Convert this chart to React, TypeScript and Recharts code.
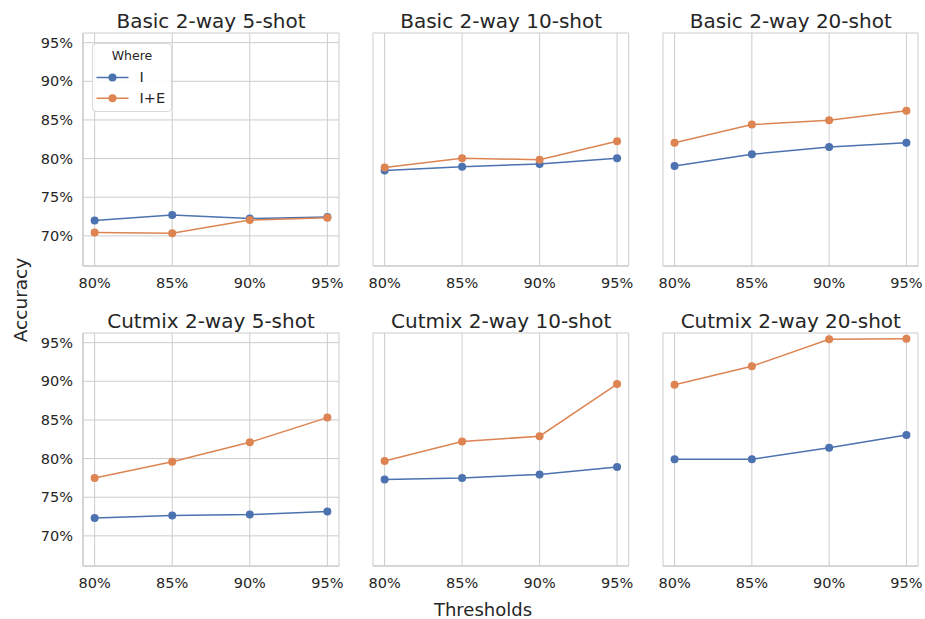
import React from 'react';
import { LineChart, Line, XAxis, YAxis, CartesianGrid, Legend } from 'recharts';

const thresholds = [80, 85, 90, 95];
const xTicks = [80, 85, 90, 95];
const yTicks = [70, 75, 80, 85, 90, 95];
const seriesNames = ['I', 'I+E'];
const panelTitles = [
  'Basic 2-way 5-shot',
  'Basic 2-way 10-shot',
  'Basic 2-way 20-shot',
  'Cutmix 2-way 5-shot',
  'Cutmix 2-way 10-shot',
  'Cutmix 2-way 20-shot',
];

const basic5_I = [72.0, 72.7, 72.25, 72.45];
const basic5_IE = [70.45, 70.35, 72.05, 72.35];
const basic10_I = [78.45, 78.95, 79.3, 80.05];
const basic10_IE = [78.85, 80.05, 79.85, 82.25];
const basic20_I = [79.05, 80.55, 81.5, 82.05];
const basic20_IE = [82.05, 84.4, 84.95, 86.2];
const cutmix5_I = [72.3, 72.65, 72.75, 73.15];
const cutmix5_IE = [77.5, 79.6, 82.1, 85.3];
const cutmix10_I = [77.3, 77.5, 77.95, 78.9];
const cutmix10_IE = [79.7, 82.2, 82.9, 89.65];
const cutmix20_I = [79.9, 79.9, 81.4, 83.05];
const cutmix20_IE = [89.55, 91.95, 95.45, 95.5];

const panelSeries = [
  [basic5_I, basic5_IE],
  [basic10_I, basic10_IE],
  [basic20_I, basic20_IE],
  [cutmix5_I, cutmix5_IE],
  [cutmix10_I, cutmix10_IE],
  [cutmix20_I, cutmix20_IE],
];

const COLORS = ['#4c72b0', '#dd8452'];
const FONT = '"DejaVu Sans", sans-serif';
const TEXT = '#262626';
const GRID = '#cccccc';
const xDomain = [79.25, 95.75];
const yDomain = [66.1, 96.25];

const colLeft = [83, 373.3, 663.3];
const colWidth = [256, 255.7, 255];
const rowTop = [33, 332.7];
const plotH = 233;

const renderLegend = (props: any) => {
  const payload = props.payload || [];
  return (
    <div
      style={{
        width: 80,
        height: 69,
        boxSizing: 'border-box',
        border: '1px solid #d9d9d9',
        borderRadius: 4,
        background: 'rgba(255,255,255,0.85)',
      }}
    >
      <svg width={78} height={67} style={{ display: 'block' }}>
        <text x={39} y={16} textAnchor="middle" fontFamily={FONT} fontSize={12.5} fill={TEXT}>
          Where
        </text>
        {payload.map((p: any, i: number) => {
          const cy = 33.4 + i * 20.8;
          return (
            <g key={p.value}>
              <line x1={3.5} x2={35.5} y1={cy} y2={cy} stroke={p.color} strokeWidth={1.5} />
              <circle cx={19.5} cy={cy} r={4} fill={p.color} />
              <text x={46.5} y={cy + 5} fontFamily={FONT} fontSize={14.5} fill={TEXT}>
                {p.value}
              </text>
            </g>
          );
        })}
      </svg>
    </div>
  );
};

function Panel({ idx }: { idx: number }) {
  const col = idx % 3;
  const row = Math.floor(idx / 3);
  const [sI, sIE] = panelSeries[idx];
  const data = thresholds.map((t, i) => ({ t, I: sI[i], IE: sIE[i] }));
  const yW = col === 0 ? colLeft[0] : 0;
  const mLeft = col === 0 ? 0 : 28;
  const chartLeft = colLeft[col] - yW - mLeft;
  const mTop = 10;
  const xH = 30;
  const width = yW + mLeft + colWidth[col] + 6;
  const height = mTop + plotH + xH;
  const tickStyle = { fontFamily: FONT, fontSize: 14.5, fill: TEXT };
  return (
    <div style={{ position: 'absolute', left: chartLeft, top: rowTop[row] - mTop }}>
      <LineChart width={width} height={height} data={data} margin={{ top: mTop, right: 6, bottom: 0, left: mLeft }}>
        <CartesianGrid stroke={GRID} strokeWidth={1} horizontal vertical />
        <XAxis
          dataKey="t"
          type="number"
          domain={xDomain}
          allowDataOverflow
          ticks={xTicks}
          tickFormatter={(v: number) => `${v}%`}
          height={xH}
          tickLine={false}
          tickSize={6}
          tickMargin={6}
          axisLine={{ stroke: GRID, strokeWidth: 1.25 }}
          tick={tickStyle}
          interval={0}
        />
        <XAxis
          xAxisId="top"
          orientation="top"
          type="number"
          domain={xDomain}
          allowDataOverflow
          height={0}
          tick={false}
          tickLine={false}
          axisLine={{ stroke: GRID, strokeWidth: 1.25 }}
        />
        <YAxis
          type="number"
          domain={yDomain}
          allowDataOverflow
          ticks={yTicks}
          tickFormatter={(v: number) => `${v}%`}
          width={yW}
          tickLine={false}
          tickSize={5}
          tickMargin={5}
          axisLine={{ stroke: GRID, strokeWidth: 1.25 }}
          tick={col === 0 ? tickStyle : false}
          interval={0}
        />
        <YAxis
          yAxisId="right"
          orientation="right"
          type="number"
          domain={yDomain}
          allowDataOverflow
          width={0}
          tick={false}
          tickLine={false}
          axisLine={{ stroke: GRID, strokeWidth: 1.25 }}
        />
        {idx === 0 && (
          <Legend
            layout="vertical"
            align="center"
            verticalAlign="middle"
            content={renderLegend}
            wrapperStyle={{ left: 92.3, top: 43.3 - (rowTop[0] - mTop), width: 80, height: 69 }}
          />
        )}
        <Line
          dataKey="I"
          name={seriesNames[0]}
          stroke={COLORS[0]}
          strokeWidth={1.5}
          dot={{ r: 4, fill: COLORS[0], stroke: COLORS[0], strokeWidth: 0 }}
          activeDot={false}
          isAnimationActive={false}
        />
        <Line
          dataKey="IE"
          name={seriesNames[1]}
          stroke={COLORS[1]}
          strokeWidth={1.5}
          dot={{ r: 4, fill: COLORS[1], stroke: COLORS[1], strokeWidth: 0 }}
          activeDot={false}
          isAnimationActive={false}
        />
      </LineChart>
    </div>
  );
}

export default function App() {
  return (
    <div style={{ position: 'absolute', left: 0, top: 0, width: 925, height: 619, background: '#ffffff', overflow: 'hidden' }}>
      <svg width={925} height={619} style={{ position: 'absolute', left: 0, top: 0, pointerEvents: 'none' }}>
        {panelTitles.map((t, i) => {
          const col = i % 3;
          const row = Math.floor(i / 3);
          return (
            <text
              key={t}
              x={colLeft[col] + colWidth[col] / 2}
              y={rowTop[row] - 5}
              textAnchor="middle"
              fontFamily={FONT}
              fontSize={20}
              fill={TEXT}
            >
              {t}
            </text>
          );
        })}
        <text x={483} y={615.5} textAnchor="middle" fontFamily={FONT} fontSize={18} fill={TEXT}>
          Thresholds
        </text>
        <text
          x={-300}
          y={26.5}
          textAnchor="middle"
          fontFamily={FONT}
          fontSize={18.5}
          fill={TEXT}
          transform="rotate(-90)"
        >
          Accuracy
        </text>
      </svg>
      {panelTitles.map((_, i) => (
        <Panel key={i} idx={i} />
      ))}
    </div>
  );
}
